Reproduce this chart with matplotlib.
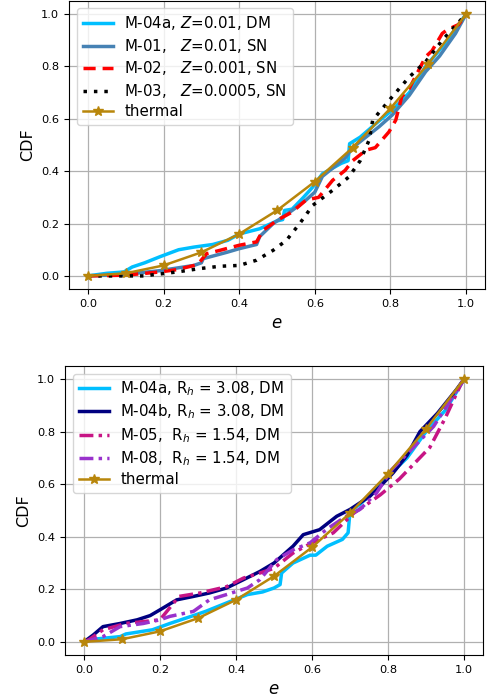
import matplotlib
matplotlib.use("Agg")
import matplotlib.pyplot as plt
import numpy as np

# ---------------- data ----------------
thermal_e = [0.0, 0.1, 0.2, 0.3, 0.4, 0.5, 0.6, 0.7, 0.8, 0.9, 1.0]
thermal_cdf = [0.0, 0.01, 0.04, 0.09, 0.16, 0.25, 0.36, 0.49, 0.64, 0.81, 1.0]

# top panel
m04a_top_e = [0.0, 0.05, 0.095, 0.117, 0.15, 0.19, 0.24, 0.28, 0.33, 0.37, 0.40, 0.454, 0.50, 0.515, 0.52,
              0.54, 0.57, 0.595, 0.62, 0.67, 0.688, 0.692, 0.72, 0.76, 0.805, 0.85, 0.893, 0.94, 0.98, 1.0]
m04a_top_cdf = [0.0, 0.01, 0.015, 0.034, 0.05, 0.073, 0.10, 0.11, 0.12, 0.136, 0.16, 0.18, 0.21, 0.215, 0.25,
                0.255, 0.30, 0.34, 0.39, 0.43, 0.44, 0.505, 0.53, 0.58, 0.634, 0.70, 0.80, 0.88, 0.96, 1.0]

m01_e = [0.0, 0.10, 0.19, 0.28, 0.30, 0.305, 0.367, 0.40, 0.446, 0.454, 0.49, 0.54, 0.577, 0.60, 0.62,
         0.68, 0.70, 0.735, 0.77, 0.805, 0.85, 0.893, 0.93, 0.972, 1.0]
m01_cdf = [0.0, 0.006, 0.02, 0.04, 0.05, 0.066, 0.09, 0.104, 0.12, 0.15, 0.20, 0.25, 0.29, 0.32, 0.38,
           0.45, 0.49, 0.53, 0.57, 0.615, 0.69, 0.78, 0.84, 0.926, 1.0]

m02_e = [0.0, 0.10, 0.19, 0.235, 0.29, 0.314, 0.35, 0.40, 0.446, 0.463, 0.50, 0.54, 0.577, 0.61, 0.647,
         0.68, 0.70, 0.735, 0.76, 0.796, 0.814, 0.83, 0.85, 0.893, 0.91, 0.937, 0.95, 0.98, 1.0]
m02_cdf = [0.0, 0.003, 0.015, 0.024, 0.043, 0.085, 0.098, 0.117, 0.13, 0.174, 0.212, 0.244, 0.29, 0.30, 0.365,
           0.403, 0.44, 0.48, 0.49, 0.55, 0.595, 0.685, 0.716, 0.837, 0.86, 0.926, 0.94, 0.96, 1.0]

m03_e = [0.0, 0.147, 0.235, 0.296, 0.35, 0.40, 0.446, 0.49, 0.525, 0.56, 0.595, 0.647, 0.69, 0.72,
         0.744, 0.753, 0.805, 0.85, 0.893, 0.937, 1.0]
m03_cdf = [0.0, 0.0, 0.015, 0.028, 0.037, 0.04, 0.06, 0.098, 0.136, 0.20, 0.27, 0.327, 0.378, 0.44,
           0.52, 0.595, 0.685, 0.76, 0.818, 0.90, 1.0]

# bottom panel
m04a_bot_e = [0.0, 0.025, 0.095, 0.11, 0.18, 0.226, 0.288, 0.32, 0.375, 0.43, 0.47, 0.50, 0.516, 0.52,
              0.55, 0.595, 0.61, 0.64, 0.68, 0.695, 0.70, 0.726, 0.76, 0.80, 0.85, 0.90, 0.95, 0.98, 1.0]
m04a_bot_cdf = [0.0, 0.01, 0.02, 0.03, 0.046, 0.07, 0.10, 0.116, 0.148, 0.18, 0.19, 0.205, 0.218, 0.262,
                0.30, 0.33, 0.33, 0.364, 0.39, 0.415, 0.497, 0.523, 0.57, 0.63, 0.70, 0.80, 0.88, 0.95, 1.0]

m04b_e = [0.0, 0.025, 0.05, 0.095, 0.14, 0.174, 0.20, 0.244, 0.288, 0.33, 0.375, 0.42, 0.463, 0.50,
          0.55, 0.577, 0.62, 0.665, 0.70, 0.753, 0.78, 0.814, 0.85, 0.884, 0.93, 0.98, 1.0]
m04b_cdf = [0.0, 0.027, 0.058, 0.07, 0.084, 0.10, 0.122, 0.16, 0.173, 0.186, 0.205, 0.237, 0.268, 0.30,
            0.364, 0.408, 0.427, 0.478, 0.504, 0.555, 0.593, 0.644, 0.71, 0.80, 0.87, 0.96, 1.0]

m05_e = [0.0, 0.015, 0.05, 0.11, 0.20, 0.218, 0.25, 0.305, 0.375, 0.42, 0.463, 0.50, 0.55, 0.60, 0.656,
         0.71, 0.744, 0.78, 0.83, 0.87, 0.91, 0.95, 0.99, 1.0]
m05_cdf = [0.0, 0.01, 0.046, 0.07, 0.084, 0.116, 0.173, 0.186, 0.21, 0.243, 0.262, 0.28, 0.338, 0.377, 0.415,
           0.49, 0.523, 0.56, 0.62, 0.68, 0.74, 0.85, 0.975, 1.0]

m08_e = [0.0, 0.05, 0.095, 0.156, 0.20, 0.226, 0.288, 0.33, 0.375, 0.43, 0.463, 0.507, 0.55, 0.595, 0.64,
         0.69, 0.726, 0.77, 0.81, 0.86, 0.92, 0.96, 1.0]
m08_cdf = [0.0, 0.02, 0.058, 0.07, 0.084, 0.097, 0.116, 0.16, 0.18, 0.205, 0.237, 0.313, 0.35, 0.377, 0.43,
           0.478, 0.504, 0.567, 0.656, 0.73, 0.82, 0.91, 1.0]

ticks = [0.0, 0.2, 0.4, 0.6, 0.8, 1.0]
tick_labels = ["0.0", "0.2", "0.4", "0.6", "0.8", "1.0"]

top_labels = ["M-04a, $Z$=0.01, DM", "M-01,   $Z$=0.01, SN", "M-02,   $Z$=0.001, SN",
              "M-03,   $Z$=0.0005, SN", "thermal"]
bot_labels = ["M-04a, R$_h$ = 3.08, DM", "M-04b, R$_h$ = 3.08, DM", "M-05,  R$_h$ = 1.54, DM",
              "M-08,  R$_h$ = 1.54, DM", "thermal"]

# ---------------- figure ----------------
plt.rcParams['font.family'] = ['DejaVu Sans']
fig = plt.figure(figsize=(4.87, 7.0), dpi=100)
ax1 = fig.add_axes([69 / 487, 1 - 289 / 700, 416 / 487, 288 / 700])
ax2 = fig.add_axes([65 / 487, 1 - 655 / 700, 418 / 487, 289 / 700])

lw = 2.5
gold = '#b8860b'

ax1.plot(m04a_top_e, m04a_top_cdf, color='#00bfff', lw=lw, label=top_labels[0])
ax1.plot(m01_e, m01_cdf, color='steelblue', lw=lw, label=top_labels[1])
ax1.plot(m02_e, m02_cdf, color='red', lw=lw, ls=(0, (3.5, 2)), label=top_labels[2])
ax1.plot(m03_e, m03_cdf, color='black', lw=lw, ls=(0, (1, 2)), label=top_labels[3])
ax1.plot(thermal_e, thermal_cdf, color=gold, lw=1.8, marker='*', ms=7.5, label=top_labels[4])

ax2.plot(m04a_bot_e, m04a_bot_cdf, color='#00bfff', lw=lw, label=bot_labels[0])
ax2.plot(m04b_e, m04b_cdf, color='navy', lw=lw, label=bot_labels[1])
ax2.plot(m05_e, m05_cdf, color='mediumvioletred', lw=lw, ls=(0, (4, 1.5, 1, 1.5)), label=bot_labels[2])
ax2.plot(m08_e, m08_cdf, color='darkorchid', lw=lw, ls=(0, (4, 1.5, 1, 1.5)), label=bot_labels[3])
ax2.plot(thermal_e, thermal_cdf, color=gold, lw=1.8, marker='*', ms=7.5, label=bot_labels[4])

for ax in (ax1, ax2):
    ax.set_xlim(-0.05, 1.05)
    ax.set_ylim(-0.05, 1.05)
    ax.set_xticks(ticks)
    ax.set_xticklabels(tick_labels)
    ax.set_yticks(ticks)
    ax.set_yticklabels(tick_labels)
    ax.tick_params(labelsize=8.2)
    ax.grid(True, color='#b0b0b0', lw=0.9)
    ax.set_axisbelow(True)
    ax.set_xlabel('$e$', fontsize=12)
    ax.set_ylabel('CDF', fontsize=11.5)
    ax.legend(loc='upper left', fontsize=10.8, handlelength=2.0, borderaxespad=0.5,
              labelspacing=0.3, handletextpad=0.8)

fig.savefig('out.png', dpi=100)
